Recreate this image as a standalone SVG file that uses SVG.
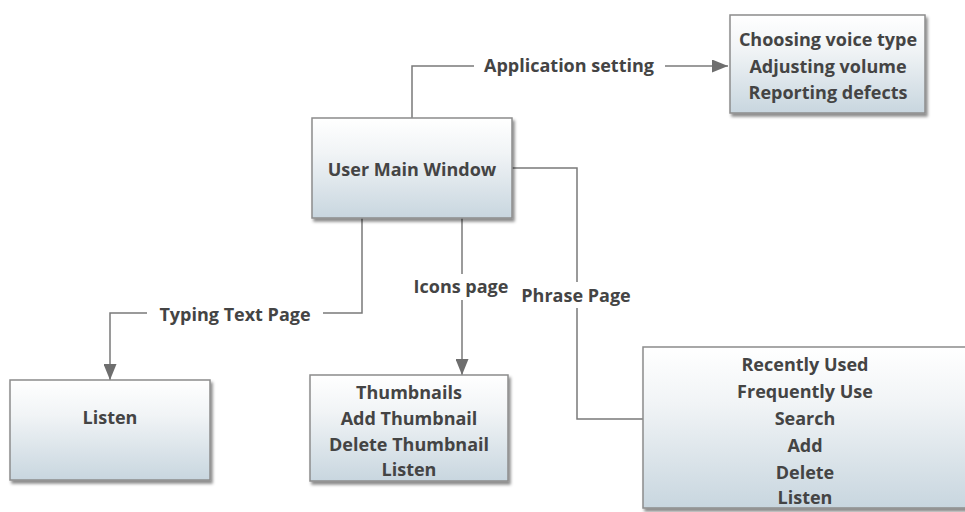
<svg xmlns="http://www.w3.org/2000/svg" width="965" height="512" viewBox="0 0 965 512">
<defs>
<linearGradient id="g" x1="0" y1="0" x2="0" y2="1">
<stop offset="0" stop-color="#ffffff"/>
<stop offset="0.35" stop-color="#f1f4f6"/>
<stop offset="1" stop-color="#c8d6df"/>
</linearGradient>
<filter id="sh" x="-10%" y="-10%" width="125%" height="130%">
<feDropShadow dx="2" dy="3" stdDeviation="1.5" flood-color="#000" flood-opacity="0.45"/>
</filter>
<marker id="ar" viewBox="0 0 16 13" refX="16" refY="6.5" markerWidth="16" markerHeight="13" markerUnits="userSpaceOnUse" orient="auto">
<path d="M0,0 L16,6.5 L0,13 Z" fill="#6e6e6e"/>
</marker>
</defs>
<style>
.box{fill:url(#g);stroke:#8c8c8c;stroke-width:1.5;filter:url(#sh)}
.t{font-family:"Open Sans","Liberation Sans",sans-serif;font-weight:700;font-size:18px;fill:#444444;text-anchor:middle}
.c{fill:none;stroke:#7a7a7a;stroke-width:1.5}
</style>
<rect width="965" height="512" fill="#ffffff"/>
<g id="connectors">
<path class="c" d="M412,118 V66 H474"/>
<path class="c" d="M665,66 H728" marker-end="url(#ar)"/>
<path class="c" d="M362,218 V313 H323"/>
<path class="c" d="M147,313 H110 V380" marker-end="url(#ar)"/>
<path class="c" d="M462,218 V274"/>
<path class="c" d="M462,300 V375" marker-end="url(#ar)"/>
<path class="c" d="M512,168 H577 V282"/>
<path class="c" d="M577,308 V419 H643"/>
<text class="t" x="569" y="72">Application setting</text>
<text class="t" x="235" y="321">Typing Text Page</text>
<text class="t" x="461" y="293">Icons page</text>
<text class="t" x="576" y="302">Phrase Page</text>
</g>
<g id="settings">
<rect class="box" x="730" y="15" width="195" height="98"/>
<text class="t" x="828" y="46">Choosing voice type</text>
<text class="t" x="828" y="73">Adjusting volume</text>
<text class="t" x="828" y="99">Reporting defects</text>
</g>
<g id="main">
<rect class="box" x="312" y="118" width="200" height="100"/>
<text class="t" x="412" y="176">User Main Window</text>
</g>
<g id="listen">
<rect class="box" x="10" y="380" width="200" height="100"/>
<text class="t" x="110" y="424">Listen</text>
</g>
<g id="thumbnails">
<rect class="box" x="310" y="375" width="198" height="106"/>
<text class="t" x="409" y="399">Thumbnails</text>
<text class="t" x="409" y="425">Add Thumbnail</text>
<text class="t" x="409" y="451">Delete Thumbnail</text>
<text class="t" x="409" y="476">Listen</text>
</g>
<g id="phrase">
<rect class="box" x="643" y="347" width="330" height="161"/>
<text class="t" x="805" y="371">Recently Used</text>
<text class="t" x="805" y="398">Frequently Use</text>
<text class="t" x="805" y="425">Search</text>
<text class="t" x="805" y="452">Add</text>
<text class="t" x="805" y="479">Delete</text>
<text class="t" x="805" y="504">Listen</text>
</g>
</svg>
